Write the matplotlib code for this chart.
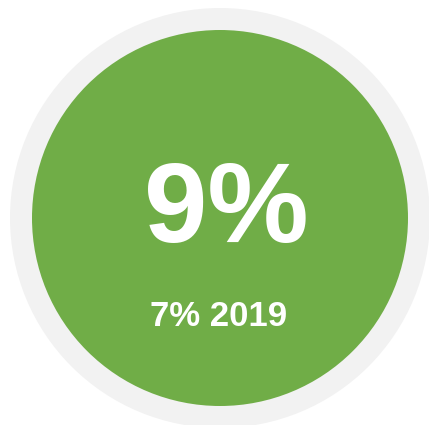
import matplotlib.pyplot as plt
from matplotlib.patches import Circle

# data
current_value = [9]
previous_value = [7]
previous_year = ["2019"]

GREEN = "#70ad47"
RING = "#f2f2f2"

W, H = 429, 425
fig = plt.figure(figsize=(W / 100, H / 100), dpi=100)
ax = fig.add_axes([0, 0, 1, 1])
ax.set_xlim(0, W)
ax.set_ylim(H, 0)
ax.set_aspect("equal")
ax.axis("off")

ax.add_patch(Circle((220, 218), 210, color=RING, lw=0))
ax.add_patch(Circle((220, 218), 188, color=GREEN, lw=0))

ax.text(226, 242, f"{current_value[0]}%", ha="center", va="baseline",
        fontsize=82, fontweight="bold", color="white",
        family=["Liberation Sans", "DejaVu Sans"])
ax.text(219, 326, f"{previous_value[0]}% {previous_year[0]}", ha="center",
        va="baseline", fontsize=25, fontweight="bold", color="white",
        family=["Liberation Sans", "DejaVu Sans"])

fig.savefig("out.png", dpi=100, facecolor="white")
